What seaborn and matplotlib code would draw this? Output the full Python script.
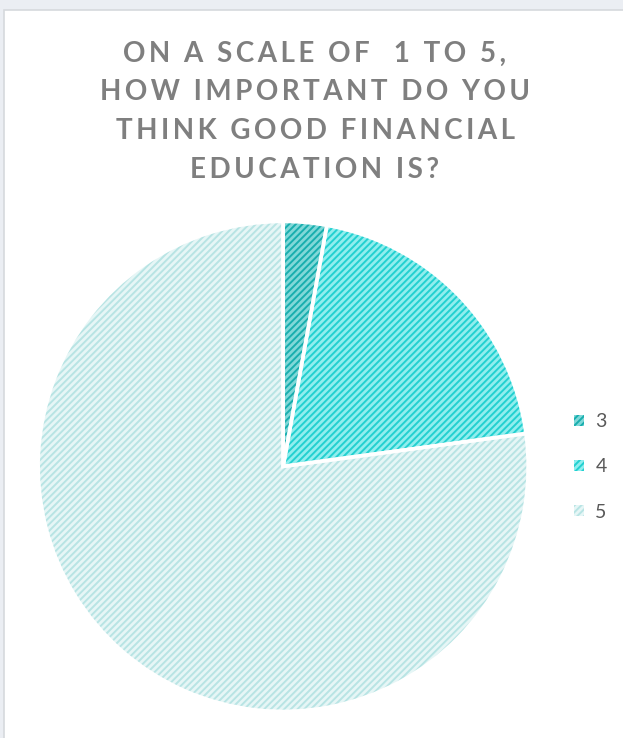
import matplotlib
matplotlib.use("Agg")
import matplotlib.pyplot as plt
import seaborn as sns
from matplotlib.patches import Rectangle, Patch

sns.set_theme(style="white")
plt.rcParams['font.family'] = ['Lato', 'DejaVu Sans']
plt.rcParams['hatch.linewidth'] = 1.4

categories = ["3", "4", "5"]
values = [1, 7, 27]
face_colors = ["#80D8D8", "#90EEEE", "#E6F6F6"]
hatch_colors = ["#18AEAE", "#22D0D0", "#B8E4E4"]
title_lines = ["ON A SCALE OF  1 TO 5,", "HOW IMPORTANT DO YOU",
               "THINK GOOD FINANCIAL", "EDUCATION IS?"]

fig = plt.figure(figsize=(6.23, 7.38), dpi=100)
fig.patch.set_facecolor("#EBEEF3")
bg = Rectangle((4/623, -0.01), 1, 1.01 - 10/738, transform=fig.transFigure,
               facecolor="white", edgecolor="#D6D9DD", linewidth=1.2, zorder=-5)
fig.add_artist(bg)

ax = fig.add_axes([0.061, 0.036, 0.787, 0.664])
ax.set_zorder(2)
ax.set_facecolor("none")
wedges, _ = ax.pie(values, startangle=90, counterclock=False, radius=1,
                   colors=face_colors,
                   wedgeprops=dict(linewidth=0, edgecolor="none"))
for w, hc in zip(wedges, hatch_colors):
    w.set_hatch("/////")
    w.set_edgecolor(hc)
    w.set_linewidth(0)
ax.pie(values, startangle=90, counterclock=False, radius=1,
       colors=["none"] * len(values),
       wedgeprops=dict(linewidth=2.6, edgecolor="white", fill=False))
ax.set_xlim(-1.0, 1.0)
ax.set_ylim(-1.0, 1.0)
ax.set_aspect("equal")
ax.axis("off")

sp = "\u200a"
ys = [54, 92, 131, 170]
for line, y in zip(title_lines, ys):
    txt = (sp * 2).join(list(line))
    fig.text(315/623, 1 - y/738, txt, ha="center", va="center",
             fontsize=20, fontweight="bold", color="#7F7F7F", zorder=3)

handles = [Patch(facecolor=fc, edgecolor=hc, hatch="/////", linewidth=0)
           for fc, hc in zip(face_colors, hatch_colors)]
leg = fig.legend(handles, categories, loc="center left",
                 bbox_to_anchor=(574/623, 1 - 467/738), frameon=False,
                 borderaxespad=0, borderpad=0,
                 handlelength=0.5, handleheight=0.5, handletextpad=0.6,
                 labelspacing=1.45, fontsize=14, labelcolor="#595959")
leg.set_zorder(3)

fig.savefig("out.png", dpi=100, facecolor=fig.get_facecolor())
